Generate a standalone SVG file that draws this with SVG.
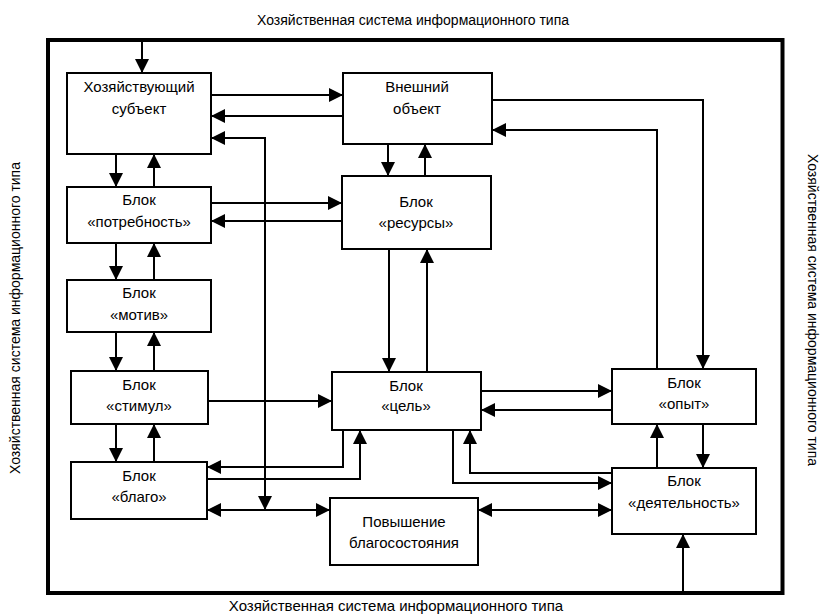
<svg xmlns="http://www.w3.org/2000/svg" width="822" height="615" viewBox="0 0 822 615">
  <style>
    .box { fill: #fff; stroke: #000; stroke-width: 2; }
    .lbl { font-family: "Liberation Sans", Arial, sans-serif; font-size: 15px; fill: #000; text-anchor: middle; }
    .cap { font-family: "Liberation Sans", Arial, sans-serif; font-size: 14px; fill: #000; text-anchor: middle; }
    .wire { fill: none; stroke: #000; stroke-width: 2; marker-end: url(#arr); }
    .both { marker-start: url(#arr); }
  </style>
  <defs>
    <marker id="arr" markerUnits="userSpaceOnUse" markerWidth="14" markerHeight="14" refX="14" refY="7" orient="auto-start-reverse">
      <path d="M0,0 L14,7 L0,14 z" fill="#000"/>
    </marker>
  </defs>
  <rect width="822" height="615" fill="#fff"/>

  <!-- system frame and its captions -->
  <g id="frame">
    <rect x="48" y="40" width="734.5" height="553" fill="none" stroke="#000" stroke-width="4"/>
    <text class="cap" x="413" y="25">Хозяйственная система информационного типа</text>
    <text class="cap" x="396" y="611" style="font-size:15px">Хозяйственная система информационного типа</text>
    <text class="cap" transform="translate(20,318) rotate(-90)">Хозяйственная система информационного типа</text>
    <text class="cap" transform="translate(808,310) rotate(90)">Хозяйственная система информационного типа</text>
  </g>

  <g id="connectors">
    <path class="wire" d="M142,42 V73"/>
    <path class="wire" d="M211,95 H343"/>
    <path class="wire" d="M343,116 H211"/>
    <path class="wire both" d="M211,138 H265 V510"/>
    <path class="wire" d="M116,154 V187"/>
    <path class="wire" d="M154,187 V154"/>
    <path class="wire" d="M211,203 H342"/>
    <path class="wire" d="M342,221 H211"/>
    <path class="wire" d="M388,144 V176"/>
    <path class="wire" d="M425,176 V144"/>
    <path class="wire" d="M492,100 H703 V369"/>
    <path class="wire" d="M657,369 V130 H492"/>
    <path class="wire" d="M116,243 V280"/>
    <path class="wire" d="M154,280 V243"/>
    <path class="wire" d="M116,332 V371"/>
    <path class="wire" d="M154,371 V332"/>
    <path class="wire" d="M116,424 V462"/>
    <path class="wire" d="M154,462 V424"/>
    <path class="wire" d="M208,401 H332"/>
    <path class="wire" d="M389,249 V372"/>
    <path class="wire" d="M427,372 V249"/>
    <path class="wire" d="M481,391 H612"/>
    <path class="wire" d="M612,410 H481"/>
    <path class="wire" d="M657,468 V424"/>
    <path class="wire" d="M703,424 V468"/>
    <path class="wire" d="M343,430 V467 H207"/>
    <path class="wire" d="M207,479 H360 V430"/>
    <path class="wire" d="M612,473 H470 V430"/>
    <path class="wire" d="M453,430 V483 H612"/>
    <path class="wire both" d="M207,510 H330"/>
    <path class="wire both" d="M478,510 H612"/>
    <path class="wire" d="M683,591 V534"/>
  </g>

  <g id="subject">
    <rect class="box" x="67" y="73" width="144" height="81"/>
    <text class="lbl" x="139" y="92">Хозяйствующий</text>
    <text class="lbl" x="139" y="114">субъект</text>
  </g>
  <g id="external">
    <rect class="box" x="343" y="73" width="149" height="71"/>
    <text class="lbl" x="417" y="92">Внешний</text>
    <text class="lbl" x="417" y="114">объект</text>
  </g>
  <g id="need">
    <rect class="box" x="67" y="187" width="144" height="56"/>
    <text class="lbl" x="139" y="205">Блок</text>
    <text class="lbl" x="139" y="227">«потребность»</text>
  </g>
  <g id="resources">
    <rect class="box" x="342" y="176" width="149" height="73"/>
    <text class="lbl" x="416" y="207">Блок</text>
    <text class="lbl" x="416" y="228">«ресурсы»</text>
  </g>
  <g id="motive">
    <rect class="box" x="67" y="280" width="144" height="52"/>
    <text class="lbl" x="139" y="298">Блок</text>
    <text class="lbl" x="139" y="320">«мотив»</text>
  </g>
  <g id="stimulus">
    <rect class="box" x="71" y="371" width="137" height="53"/>
    <text class="lbl" x="139" y="390">Блок</text>
    <text class="lbl" x="139" y="411">«стимул»</text>
  </g>
  <g id="good">
    <rect class="box" x="71" y="462" width="136" height="57"/>
    <text class="lbl" x="139" y="481">Блок</text>
    <text class="lbl" x="139" y="502">«благо»</text>
  </g>
  <g id="goal">
    <rect class="box" x="332" y="372" width="149" height="58"/>
    <text class="lbl" x="406" y="391">Блок</text>
    <text class="lbl" x="406" y="411">«цель»</text>
  </g>
  <g id="welfare">
    <rect class="box" x="330" y="498" width="148" height="67"/>
    <text class="lbl" x="404" y="527">Повышение</text>
    <text class="lbl" x="404" y="548">благосостояния</text>
  </g>
  <g id="experience">
    <rect class="box" x="612" y="369" width="144" height="55"/>
    <text class="lbl" x="684" y="388">Блок</text>
    <text class="lbl" x="684" y="409">«опыт»</text>
  </g>
  <g id="activity">
    <rect class="box" x="612" y="468" width="144" height="66"/>
    <text class="lbl" x="684" y="486">Блок</text>
    <text class="lbl" x="684" y="508">«деятельность»</text>
  </g>
</svg>
